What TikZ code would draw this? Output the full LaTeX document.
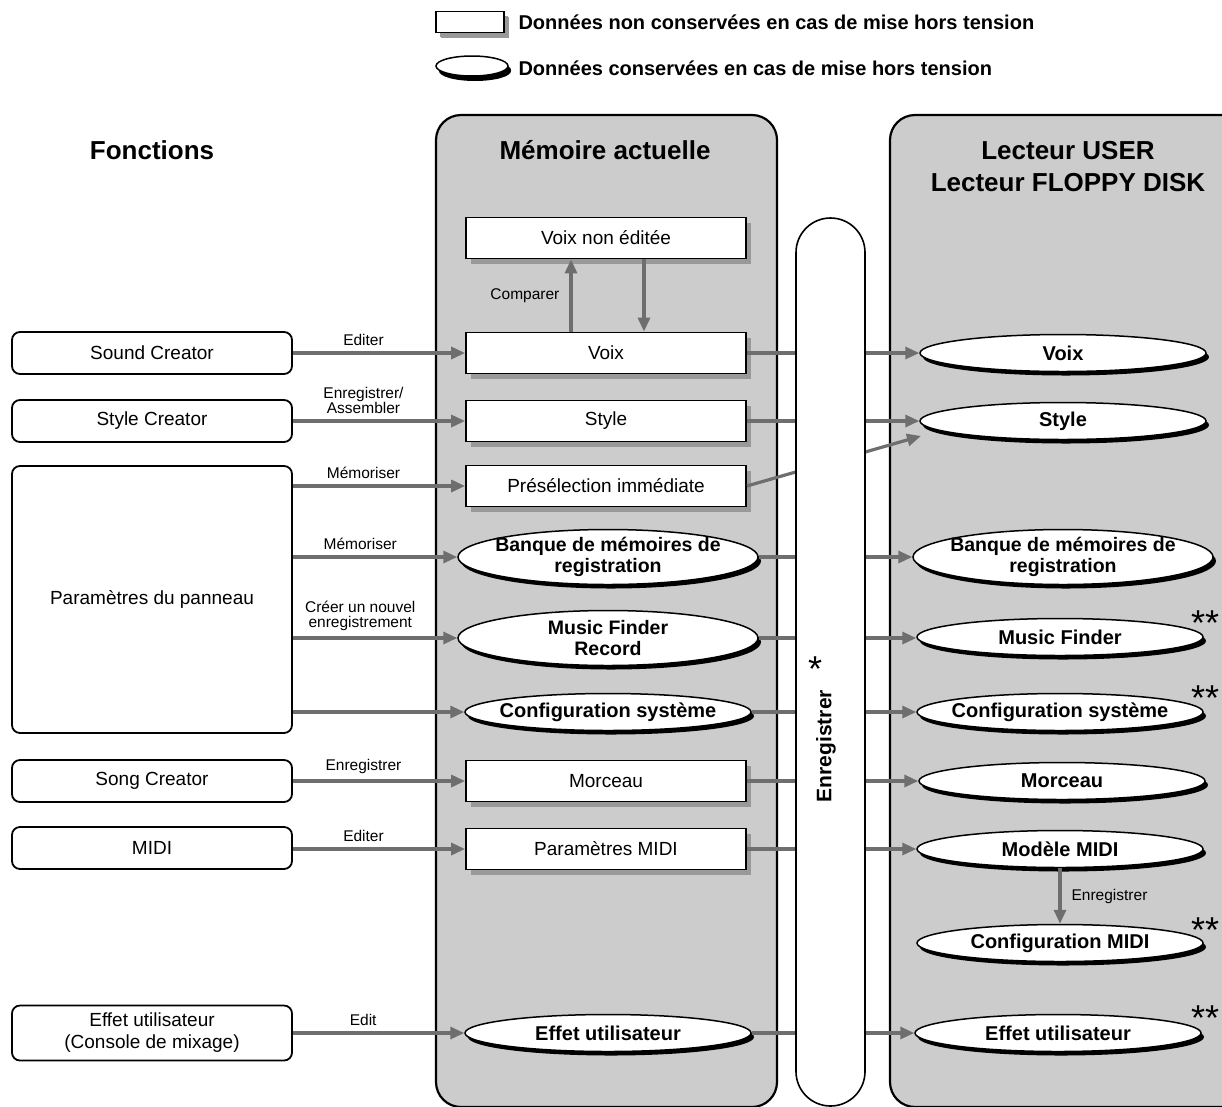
\documentclass[tikz,border=0pt]{standalone}
\usepackage{fontspec}
\setmainfont{Liberation Sans}
\usetikzlibrary{arrows.meta,shapes.geometric,shadows}
\definecolor{panelgray}{gray}{0.8}
\definecolor{arrgray}{gray}{0.43}
\definecolor{shgray}{gray}{0.6}
\begin{document}
\begin{tikzpicture}[x=1pt,y=-1pt,
  every node/.style={font=\fontsize{19}{22}\selectfont},
  panel/.style={draw, line width=2.2pt, fill=panelgray, rounded corners=25pt, inner sep=0pt},
  lbox/.style={draw, line width=1.8pt, rounded corners=8pt, fill=white, minimum width=280pt, minimum height=42pt, align=center, inner sep=2pt},
  mbox/.style={draw, line width=1.8pt, fill=white, minimum width=280pt, minimum height=41pt, inner sep=2pt,
     drop shadow={shadow xshift=5pt, shadow yshift=-5pt, fill=shgray, opacity=1}},
  ell/.style={ellipse, draw, line width=1.5pt, fill=white, inner xsep=-12pt, inner ysep=-4pt,
     minimum width=286pt, minimum height=37pt, align=center, font=\bfseries\fontsize{20}{22}\selectfont,
     drop shadow={shadow xshift=3pt, shadow yshift=-4pt, fill=black, opacity=1}},
  ellb/.style={ell, inner xsep=-20pt, inner ysep=-8pt, minimum width=300pt, minimum height=55pt, font=\bfseries\fontsize{19.5}{21}\selectfont},
  arr/.style={draw=arrgray, color=arrgray, line width=3.2pt, -{Triangle[length=14pt,width=12pt]}},
  lbl/.style={font=\fontsize{15.5}{15}\selectfont, inner sep=1pt, align=center, text=black},
  hdr/.style={font=\bfseries\fontsize{26}{32}\selectfont, align=center},
  legt/.style={anchor=west, font=\bfseries\fontsize{20}{24}\selectfont},
  star/.style={font=\fontsize{36}{36}\selectfont, inner sep=0pt}
]
\useasboundingbox (0,0) rectangle (1222,1106);
\clip (0,0) rectangle (1222,1106);

% legend
\node[mbox, minimum width=68pt, minimum height=21pt, line width=1.4pt,
  drop shadow={shadow xshift=4pt, shadow yshift=-4pt, fill=shgray, opacity=1}] (legr) at (470,22) {};
\node[legt] (legt1) at (515,22) {Données non conservées en cas de mise hors tension};
\node[ell, minimum width=72pt, minimum height=20pt, inner sep=0pt,
  drop shadow={shadow xshift=3pt, shadow yshift=-5pt, fill=black, opacity=1}] (lege) at (472,66) {};
\node[legt] (legt2) at (515,68) {Données conservées en cas de mise hors tension};

% panels
\node[panel, minimum width=341pt, minimum height=992pt] (pmem) at (606.5,611) {};
\node[panel, minimum width=370pt, minimum height=992pt] (pdisk) at (1075,611) {};

% headers
\node[hdr] (hf) at (152,150) {Fonctions};
\node[hdr] (hm) at (605,150) {Mémoire actuelle};
\node[hdr] (hl) at (1068,167) {Lecteur USER\\Lecteur FLOPPY DISK};

% left column
\node[lbox] (sc) at (152,353) {Sound Creator};
\node[lbox] (stc) at (152,421) {Style Creator};
\node[lbox, minimum height=267pt] (pp) at (152,599.5) {Paramètres du panneau};
\node[lbox] (soc) at (152,781) {Song Creator};
\node[lbox] (lmidi) at (152,848) {MIDI};
\node[lbox, minimum height=55pt] (leff) at (152,1033) {Effet utilisateur\\(Console de mixage)};

% middle column
\node[mbox] (vne) at (606,238) {Voix non éditée};
\node[mbox] (mvoix) at (606,353) {Voix};
\node[mbox] (mstyle) at (606,421) {Style};
\node[mbox] (mpre) at (606,486) {Présélection immédiate};
\node[ellb] (mbank) at (608,557) {Banque de mémoires de\\registration};
\node[ellb] (mmf) at (608,638) {Music Finder\\Record};
\node[ell] (msys) at (608,712) {Configuration système};
\node[mbox] (mmor) at (606,781) {Morceau};
\node[mbox] (mmidi) at (606,849) {Paramètres MIDI};
\node[ell] (meff) at (608,1033) {Effet utilisateur};

% right column
\node[ell] (rvoix) at (1063,353) {Voix};
\node[ell] (rstyle) at (1063,421) {Style};
\node[ellb] (rbank) at (1063,557) {Banque de mémoires de\\registration};
\node[ell] (rmf) at (1060,637) {Music Finder};
\node[ell] (rsys) at (1060,712) {Configuration système};
\node[ell] (rmor) at (1062,781) {Morceau};
\node[ell] (rmod) at (1060,849) {Modèle MIDI};
\node[ell] (rcm) at (1060,943) {Configuration MIDI};
\node[ell] (reff) at (1058,1033) {Effet utilisateur};

% left -> middle
\draw[arr] (sc) -- node[lbl, above=5pt, pos=0.41] {Editer} (mvoix);
\draw[arr] (stc) -- node[lbl, above=5pt, pos=0.41] {Enregistrer/\\Assembler} (mstyle);
\draw[arr] (mpre -| pp.east) -- node[lbl, above=5pt, pos=0.41] {Mémoriser} (mpre);
\draw[arr] (mbank -| pp.east) -- node[lbl, above=5pt, pos=0.41] {Mémoriser} (mbank);
\draw[arr] (mmf -| pp.east) -- node[lbl, above=5pt, pos=0.41] {Créer un nouvel\\enregistrement} (mmf);
\draw[arr] (msys -| pp.east) -- (msys);
\draw[arr] (soc) -- node[lbl, above=5pt, pos=0.41] {Enregistrer} (mmor);
\draw[arr] (lmidi.east |- mmidi) -- node[lbl, above=5pt, pos=0.41] {Editer} (mmidi);
\draw[arr] (leff) -- node[lbl, above=5pt, pos=0.41] {Edit} (meff);

% compare arrows
\draw[arr] ([xshift=-35pt]mvoix.north) -- node[lbl, left=9pt] {Comparer} ([xshift=-35pt]vne.south);
\draw[arr] ([xshift=38pt]vne.south) -- ([xshift=38pt]mvoix.north);

% middle -> right
\coordinate (stip) at (921,436);
\draw[arr] (mvoix) -- (rvoix);
\draw[arr] (mstyle) -- (rstyle);
\draw[arr] (mpre.east) -- (stip);
\draw[arr] (mbank) -- (rbank);
\draw[arr] (mmf) -- (mmf -| rmf.west);
\draw[arr] (msys) -- (rsys);
\draw[arr] (mmor) -- (rmor);
\draw[arr] (mmidi) -- (rmod);
\draw[arr] (meff) -- (meff -| reff.west);
\draw[arr] (rmod) -- node[lbl, right=9pt] {Enregistrer} (rcm);

% Enregistrer pill
\node[draw, line width=1.6pt, fill=white, rounded corners=34.5pt, minimum width=69pt, minimum height=888pt, inner sep=0pt] (pill) at (830.5,662) {};
\node[rotate=90, font=\bfseries\fontsize{21}{22}\selectfont] (enr) at (826,746) {Enregistrer};
\node[star] (st0) at (815,669) {*};

% double stars
\node[star] (st1) at (1205,623) {**};
\node[star] (st2) at (1205,698) {**};
\node[star] (st3) at (1205,930) {**};
\node[star] (st4) at (1205,1018) {**};
\end{tikzpicture}
\end{document}
